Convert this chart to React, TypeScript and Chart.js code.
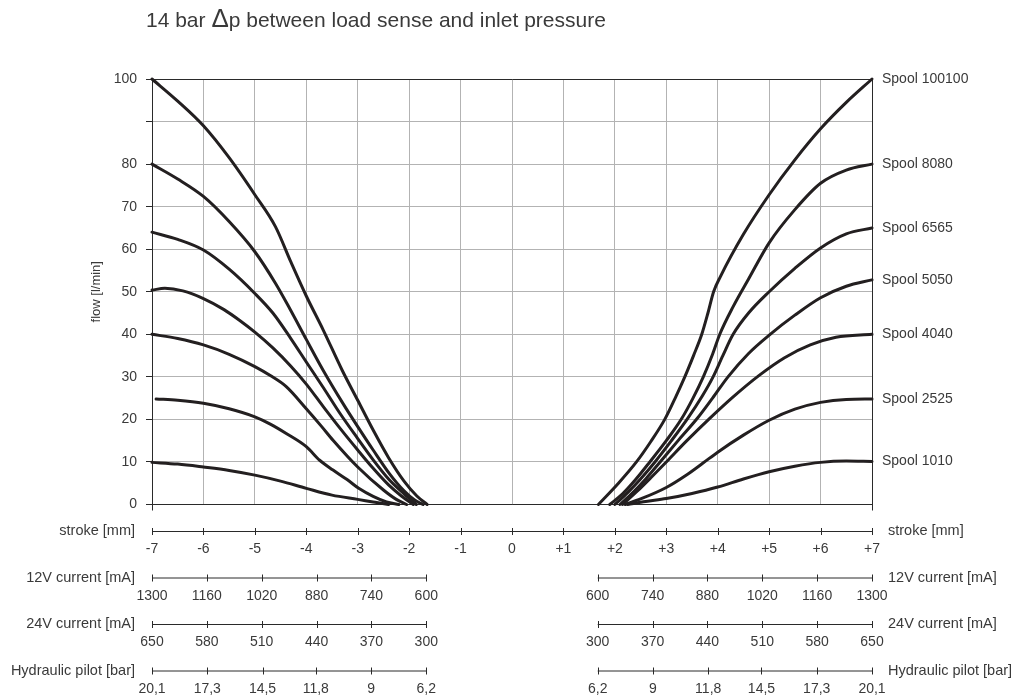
import React, { useEffect, useRef } from 'react';
import { Chart, registerables } from 'chart.js';

Chart.register(...registerables);

// ---------- data ----------
const titleParts = ['14 bar ', 'Δ', 'p between load sense and inlet pressure'];
const yAxisTitle = 'flow [l/min]';

const flowTicks = [0, 10, 20, 30, 40, 50, 60, 70, 80, 90, 100];
const flowTickLabels = ['0', '10', '20', '30', '40', '50', '60', '70', '80', '', '100'];

const strokeTicks = [-7, -6, -5, -4, -3, -2, -1, 0, 1, 2, 3, 4, 5, 6, 7];
const strokeTickLabels = ['-7', '-6', '-5', '-4', '-3', '-2', '-1', '0', '+1', '+2', '+3', '+4', '+5', '+6', '+7'];
const strokeAxisName = 'stroke [mm]';

// control signal axes: start of control at ±controlStart mm, full signal at ±7 mm
const controlStart = 5 / 3;
const controlFull = 7;
const current12V = [1300, 1160, 1020, 880, 740, 600];
const current12VLabels = ['1300', '1160', '1020', '880', '740', '600'];
const current24V = [650, 580, 510, 440, 370, 300];
const current24VLabels = ['650', '580', '510', '440', '370', '300'];
const pilotBar = [20.1, 17.3, 14.5, 11.8, 9, 6.2];
const pilotBarLabels = ['20,1', '17,3', '14,5', '11,8', '9', '6,2'];

const spoolNames = ['Spool 100100', 'Spool 8080', 'Spool 6565', 'Spool 5050', 'Spool 4040', 'Spool 2525', 'Spool 1010'];

// [stroke mm, flow l/min]
const spool100100Left: [number, number][] = [[-7, 100], [-6.5, 94.8], [-6, 89], [-5.5, 81.5], [-5, 72.8], [-4.6, 65.3], [-4.3, 57], [-4, 49], [-3.67, 41], [-3.3, 31.5], [-3, 24.5], [-2.7, 17.5], [-2.4, 11], [-2.1, 5.5], [-1.85, 2], [-1.65, 0]];
const spool8080Left: [number, number][] = [[-7, 80], [-6.5, 76.5], [-6, 72.4], [-5.5, 66.5], [-5, 59.4], [-4.6, 52], [-4.32, 46], [-4, 38.8], [-3.67, 31.5], [-3.3, 24], [-3, 18.3], [-2.7, 12.8], [-2.38, 7.2], [-2.1, 3.2], [-1.9, 1.1], [-1.73, 0]];
const spool6565Left: [number, number][] = [[-7, 64], [-6.5, 62.3], [-6, 59.8], [-5.5, 55.3], [-5, 49.6], [-4.65, 45], [-4.3, 39], [-4, 33.5], [-3.67, 27.5], [-3.35, 21.5], [-3, 15.5], [-2.7, 10.5], [-2.4, 6], [-2.1, 2.5], [-1.86, 0]];
const spool5050Left: [number, number][] = [[-7, 50.4], [-6.75, 50.8], [-6.4, 50.2], [-6, 48.4], [-5.6, 45.8], [-5.3, 43.3], [-5, 40.5], [-4.65, 36.8], [-4.3, 32.5], [-4, 28.3], [-3.67, 23], [-3.35, 18], [-3, 12.8], [-2.7, 8.5], [-2.4, 4.6], [-2.15, 2], [-1.92, 0]];
const spool4040Left: [number, number][] = [[-7, 40], [-6.5, 39], [-6, 37.5], [-5.5, 35.3], [-5, 32.4], [-4.7, 30.3], [-4.39, 27.7], [-4, 22.5], [-3.7, 18.3], [-3.48, 15.1], [-3, 8.8], [-2.5, 3.4], [-2.25, 1.2], [-2.05, 0]];
const spool2525Left: [number, number][] = [[-6.92, 24.8], [-6.5, 24.5], [-6, 23.8], [-5.5, 22.5], [-5, 20.6], [-4.7, 18.9], [-4.39, 16.7], [-4, 13.6], [-3.74, 10.4], [-3.48, 8.1], [-3.2, 5.8], [-2.98, 3.8], [-2.7, 1.9], [-2.44, 0.6], [-2.2, 0]];
const spool1010Left: [number, number][] = [[-7, 9.9], [-6.5, 9.5], [-6, 8.8], [-5.5, 8], [-5, 6.9], [-4.5, 5.5], [-4, 3.8], [-3.5, 2.2], [-3, 1.2], [-2.7, 0.6], [-2.4, 0]];

const spool100100Right: [number, number][] = [[1.68, 0], [2.07, 5], [2.42, 10], [2.7, 14.8], [2.97, 20], [3.18, 25.2], [3.36, 30], [3.53, 35], [3.69, 40], [3.81, 45], [3.92, 50], [4.05, 53.5], [4.5, 63.5], [5, 72.8], [5.5, 81], [6, 88.3], [6.5, 94.5], [7, 100]];
const spool8080Right: [number, number][] = [[1.9, 0], [2.15, 2.5], [2.4, 5.8], [2.68, 10], [3, 15], [3.3, 20.2], [3.52, 25], [3.72, 30], [3.9, 35.3], [4.04, 40], [4.3, 46.5], [4.6, 53], [5, 61.5], [5.5, 69.3], [6, 75.5], [6.5, 78.6], [7, 80]];
const spool6565Right: [number, number][] = [[2, 0], [2.25, 2.8], [2.5, 6], [2.78, 10], [3.1, 15], [3.42, 20.3], [3.7, 25.5], [3.91, 30], [4.1, 35], [4.3, 40], [4.6, 45], [5, 50], [5.5, 55.5], [6, 60.3], [6.5, 63.6], [7, 65]];
const spool5050Right: [number, number][] = [[2.1, 0], [2.35, 2.8], [2.6, 6], [2.88, 10], [3.25, 15.3], [3.62, 20.5], [3.9, 25], [4.2, 30], [4.6, 35.5], [5.02, 40], [5.5, 44.5], [6, 48.6], [6.5, 51.3], [7, 52.8]];
const spool4040Right: [number, number][] = [[2.15, 0], [2.45, 3.3], [2.7, 6.3], [3, 10], [3.4, 15], [3.85, 20.3], [4.3, 25.3], [4.8, 30.3], [5.3, 34.5], [5.8, 37.5], [6.3, 39.3], [7, 40]];
const spool2525Right: [number, number][] = [[2.2, 0], [2.5, 1.3], [3, 4], [3.4, 7], [3.72, 9.8], [4, 12.3], [4.5, 16.3], [5, 19.8], [5.5, 22.4], [6, 24], [6.5, 24.7], [7, 24.8]];
const spool1010Right: [number, number][] = [[2.25, 0], [2.6, 0.7], [3, 1.4], [3.5, 2.6], [4, 4.1], [4.5, 6], [5, 7.7], [5.5, 9], [6, 9.9], [6.5, 10.2], [7, 10.1]];

const leftCurves = [spool100100Left, spool8080Left, spool6565Left, spool5050Left, spool4040Left, spool2525Left, spool1010Left];
const rightCurves = [spool100100Right, spool8080Right, spool6565Right, spool5050Right, spool4040Right, spool2525Right, spool1010Right];

// ---------- styles ----------
const FONT = '"Liberation Sans", Arial, Helvetica, sans-serif';
const INK = '#231f20';
const TEXT = '#3a3a3a';
const GRID = '#b3b3b3';
const AXIS = '#2a2a2a';

function App() {
  const canvasRef = useRef<HTMLCanvasElement | null>(null);

  useEffect(() => {
    const canvas = canvasRef.current;
    if (!canvas) return;

    const spoolEndFlow = rightCurves.map((c) => c[c.length - 1][1]);

    const datasets: any[] = [];
    [...leftCurves, ...rightCurves].forEach((curve, i) => {
      datasets.push({
        label: spoolNames[i % spoolNames.length],
        data: curve.map(([x, y]) => ({ x, y })),
        borderColor: INK,
        borderWidth: 3,
        pointRadius: 0,
        fill: false,
        cubicInterpolationMode: 'monotone',
        clip: 6,
        borderCapStyle: 'round',
        borderJoinStyle: 'round',
      });
    });

    const rowLayout = [
      { name: '12V current [mA]', values: current12V, labels: current12VLabels, lineY: 577.5 },
      { name: '24V current [mA]', values: current24V, labels: current24VLabels, lineY: 624 },
      { name: 'Hydraulic pilot [bar]', values: pilotBar, labels: pilotBarLabels, lineY: 670.5 },
    ];

    const auxPlugin = {
      id: 'auxAxes',
      afterDraw(chart: any) {
        const ctx: CanvasRenderingContext2D = chart.ctx;
        const xs = chart.scales.x;
        const area = chart.chartArea;
        ctx.save();

        // title with enlarged delta
        ctx.fillStyle = TEXT;
        ctx.textAlign = 'left';
        ctx.textBaseline = 'alphabetic';
        let tx = 146;
        titleParts.forEach((p, i) => {
          ctx.font = `${i === 1 ? 26 : 21}px ${FONT}`;
          ctx.fillText(p, tx, 27);
          tx += ctx.measureText(p).width;
        });

        // y axis title
        ctx.save();
        ctx.translate(96, (area.top + area.bottom) / 2);
        ctx.rotate(-Math.PI / 2);
        ctx.font = `13px ${FONT}`;
        ctx.textAlign = 'center';
        ctx.textBaseline = 'middle';
        ctx.fillText(yAxisTitle, 0, 0);
        ctx.restore();

        const xMin = xs.getPixelForValue(-controlFull);
        const xMax = xs.getPixelForValue(controlFull);

        const drawRow = (
          y: number,
          segments: { from: number; to: number; ticks: number[]; labels: string[] }[],
          name: string
        ) => {
          ctx.strokeStyle = AXIS;
          ctx.lineWidth = 1;
          segments.forEach((seg) => {
            ctx.beginPath();
            ctx.moveTo(seg.from, y + 0.5);
            ctx.lineTo(seg.to, y + 0.5);
            ctx.stroke();
            seg.ticks.forEach((px, k) => {
              const xx = Math.round(px) + 0.5;
              ctx.beginPath();
              ctx.moveTo(xx, y - 3);
              ctx.lineTo(xx, y + 4);
              ctx.stroke();
              ctx.fillStyle = TEXT;
              ctx.font = `14px ${FONT}`;
              ctx.textAlign = 'center';
              ctx.textBaseline = 'middle';
              ctx.fillText(seg.labels[k], px, y + 18.5);
            });
          });
          ctx.fillStyle = TEXT;
          ctx.font = `14.5px ${FONT}`;
          ctx.textBaseline = 'middle';
          ctx.textAlign = 'right';
          ctx.fillText(name, xMin - 17, y);
          ctx.textAlign = 'left';
          ctx.fillText(name, xMax + 16, y);
        };

        // stroke row
        drawRow(
          531,
          [{ from: xMin, to: xMax, ticks: strokeTicks.map((s) => xs.getPixelForValue(s)), labels: strokeTickLabels }],
          strokeAxisName
        );

        // control signal rows
        rowLayout.forEach((row) => {
          const vmax = Math.max(...row.values);
          const vmin = Math.min(...row.values);
          const toStroke = (v: number) => controlStart + ((v - vmin) / (vmax - vmin)) * (controlFull - controlStart);
          const leftTicks = row.values.map((v) => xs.getPixelForValue(-toStroke(v)));
          const rightTicks = row.values.map((v) => xs.getPixelForValue(toStroke(v)));
          drawRow(
            row.lineY,
            [
              { from: xs.getPixelForValue(-controlFull), to: xs.getPixelForValue(-controlStart), ticks: leftTicks, labels: row.labels },
              { from: xs.getPixelForValue(controlStart), to: xs.getPixelForValue(controlFull), ticks: rightTicks, labels: row.labels },
            ],
            row.name
          );
        });

        ctx.restore();
      },
    };

    const edgeColor = (v: number, lo: number, hi: number) => (v === lo || v === hi ? AXIS : GRID);

    const chart = new Chart(canvas, {
      type: 'line',
      data: { datasets },
      plugins: [auxPlugin],
      options: {
        animation: false,
        responsive: false,
        maintainAspectRatio: false,
        layout: { padding: { top: 79, left: 0, right: 0, bottom: 0 } },
        plugins: {
          legend: { display: false },
          tooltip: { enabled: false },
          title: { display: false },
        },
        scales: {
          x: {
            type: 'linear',
            min: -7,
            max: 7,
            afterBuildTicks: (scale: any) => {
              scale.ticks = strokeTicks.map((v) => ({ value: v }));
            },
            ticks: { display: false },
            grid: {
              color: (c: any) => edgeColor(c.tick?.value, -7, 7),
              lineWidth: 1,
              drawTicks: true,
              tickLength: 6,
              tickColor: (c: any) => (c.tick?.value === -7 || c.tick?.value === 7 ? AXIS : 'rgba(0,0,0,0)'),
            },
            border: { display: true, color: AXIS, width: 1 },
            afterFit: (scale: any) => {
              scale.height = 195.5;
            },
          },
          y: {
            type: 'linear',
            position: 'left',
            min: 0,
            max: 100,
            afterBuildTicks: (scale: any) => {
              scale.ticks = flowTicks.map((v) => ({ value: v }));
            },
            ticks: {
              autoSkip: false,
              padding: 9,
              color: TEXT,
              font: { family: FONT, size: 14 },
              callback: (v: any) => {
                const idx = flowTicks.indexOf(Number(v));
                return idx >= 0 ? flowTickLabels[idx] : '';
              },
            },
            grid: {
              color: (c: any) => edgeColor(c.tick?.value, 0, 100),
              lineWidth: 1,
              drawTicks: true,
              tickLength: 6,
              tickColor: AXIS,
            },
            border: { display: true, color: AXIS, width: 1 },
            afterFit: (scale: any) => {
              scale.width = 152;
            },
          },
          spool: {
            type: 'linear',
            position: 'right',
            min: 0,
            max: 100,
            afterBuildTicks: (scale: any) => {
              scale.ticks = spoolEndFlow.map((v) => ({ value: v }));
            },
            ticks: {
              autoSkip: false,
              padding: 10,
              color: TEXT,
              font: { family: FONT, size: 14 },
              callback: (_v: any, i: number) => spoolNames[i],
            },
            grid: { drawOnChartArea: false, drawTicks: false },
            border: { display: true, color: AXIS, width: 1 },
            afterFit: (scale: any) => {
              scale.width = 1028 - 872;
            },
          },
        },
      } as any,
    });

    return () => {
      chart.destroy();
    };
  }, []);

  return (
    <div style={{ position: 'absolute', left: 0, top: 0, width: 1028, height: 700, background: '#fff' }}>
      <canvas ref={canvasRef} width={1028} height={700} style={{ display: 'block', width: 1028, height: 700 }} />
    </div>
  );
}

export default App;
